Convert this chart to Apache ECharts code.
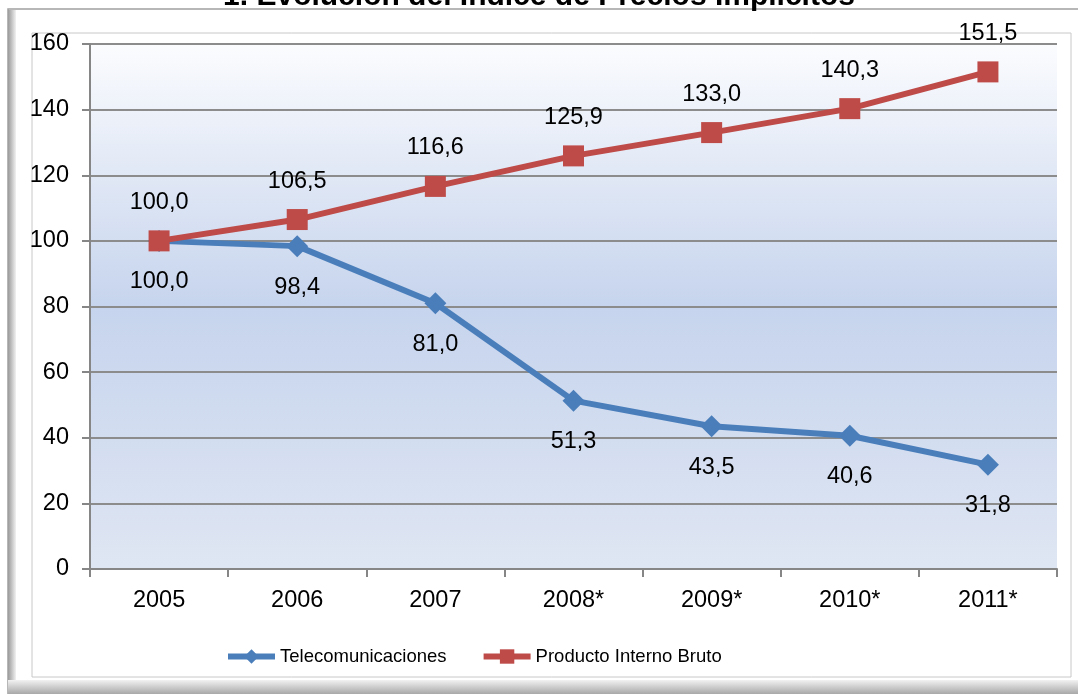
<!DOCTYPE html>
<html>
<head>
    <meta charset="UTF-8">
    <title>Evolución del Índice de Precios Implícitos</title>
    <script src="https://cdn.jsdelivr.net/npm/echarts@6/dist/echarts.min.js"></script>
    <style>
        html, body { margin: 0; padding: 0; background: #fff; }
        #main { width: 1078px; height: 694px; }
    </style>
</head>
<body>
<div id="main"></div>
<script type="text/javascript">
    // datos
    var years = ['2005', '2006', '2007', '2008*', '2009*', '2010*', '2011*'];
    var telecom = [100.0, 98.4, 81.0, 51.3, 43.5, 40.6, 31.8];
    var pib = [100.0, 106.5, 116.6, 125.9, 133.0, 140.3, 151.5];
    var seriesNames = ['Telecomunicaciones', 'Producto Interno Bruto'];

    var myChart = echarts.init(document.getElementById('main'));

    function fmt(p) {
        return p.value.toFixed(1).replace('.', ',');
    }

    var font = 'Arial, "Liberation Sans", sans-serif';

    var option = {
        backgroundColor: '#ffffff',
        textStyle: { fontFamily: font },
        title: {
            text: '1. Evolución del Índice de Precios Implícitos',
            left: 'center',
            top: -23,
            textStyle: { fontSize: 30, fontWeight: 'bold', color: '#000', fontFamily: font }
        },
        graphic: [
            // marco exterior con sombra
            {
                type: 'rect', z: -10, silent: true,
                shape: { x: 8, y: 9, width: 1080, height: 700 },
                style: { fill: '#ffffff', stroke: '#a0a0a0', lineWidth: 1.5 }
            },
            {
                type: 'rect', z: -9, silent: true,
                shape: { x: 8, y: 10, width: 8, height: 690 },
                style: {
                    fill: new echarts.graphic.LinearGradient(0, 0, 1, 0, [
                        { offset: 0, color: '#9a9a9a' },
                        { offset: 1, color: '#f2f2f2' }
                    ])
                }
            },
            {
                type: 'rect', z: -9, silent: true,
                shape: { x: 8, y: 680, width: 1080, height: 14 },
                style: {
                    fill: new echarts.graphic.LinearGradient(0, 0, 0, 1, [
                        { offset: 0, color: '#f2f2f2' },
                        { offset: 1, color: '#a8a8a8' }
                    ])
                }
            },
            {
                type: 'rect', z: -8, silent: true,
                shape: { x: 32, y: 33, width: 1039, height: 644 },
                style: { fill: '#ffffff', stroke: '#c8c8c8', lineWidth: 1 }
            }
        ],
        grid: {
            left: 90,
            right: 21,
            top: 44,
            bottom: 125,
            show: true,
            borderWidth: 0,
            backgroundColor: new echarts.graphic.LinearGradient(0, 0, 0, 1, [
                { offset: 0, color: '#fbfcfe' },
                { offset: 0.5, color: '#c6d4ed' },
                { offset: 1, color: '#dfe6f3' }
            ])
        },
        legend: {
            data: seriesNames,
            bottom: 28,
            left: 225,
            padding: 0,
            itemWidth: 47,
            itemHeight: 18,
            itemGap: 34,
            lineStyle: { width: 6 },
            textStyle: { fontSize: 18.5, color: '#000', fontFamily: font }
        },
        xAxis: {
            type: 'category',
            boundaryGap: true,
            data: years,
            axisLine: { lineStyle: { color: '#868686', width: 2 } },
            axisTick: { show: true, length: 8, lineStyle: { color: '#868686', width: 2 } },
            axisLabel: { fontSize: 23.5, color: '#000', margin: 20, fontFamily: font }
        },
        yAxis: {
            type: 'value',
            min: 0,
            max: 160,
            interval: 20,
            axisLine: { show: true, lineStyle: { color: '#868686', width: 2 } },
            axisTick: { show: true, length: 8, lineStyle: { color: '#868686', width: 2 } },
            axisLabel: { fontSize: 23.5, color: '#000', margin: 21, fontFamily: font },
            splitLine: { lineStyle: { color: '#8c8c8c', width: 2 } }
        },
        series: [
            {
                name: seriesNames[0],
                type: 'line',
                data: telecom,
                symbol: 'diamond',
                symbolSize: 22,
                lineStyle: { color: '#4a7ebb', width: 6 },
                itemStyle: { color: '#4a7ebb' },
                label: {
                    show: true,
                    position: 'bottom',
                    distance: 18,
                    fontSize: 23.5,
                    color: '#000',
                    fontFamily: font,
                    formatter: fmt
                },
                z: 3
            },
            {
                name: seriesNames[1],
                type: 'line',
                data: pib,
                symbol: 'rect',
                symbolSize: 21,
                lineStyle: { color: '#be4b48', width: 6 },
                itemStyle: { color: '#be4b48' },
                label: {
                    show: true,
                    position: 'top',
                    distance: 16,
                    fontSize: 23.5,
                    color: '#000',
                    fontFamily: font,
                    formatter: fmt
                },
                z: 4
            }
        ]
    };

    myChart.setOption(option);
</script>
</body>
</html>
